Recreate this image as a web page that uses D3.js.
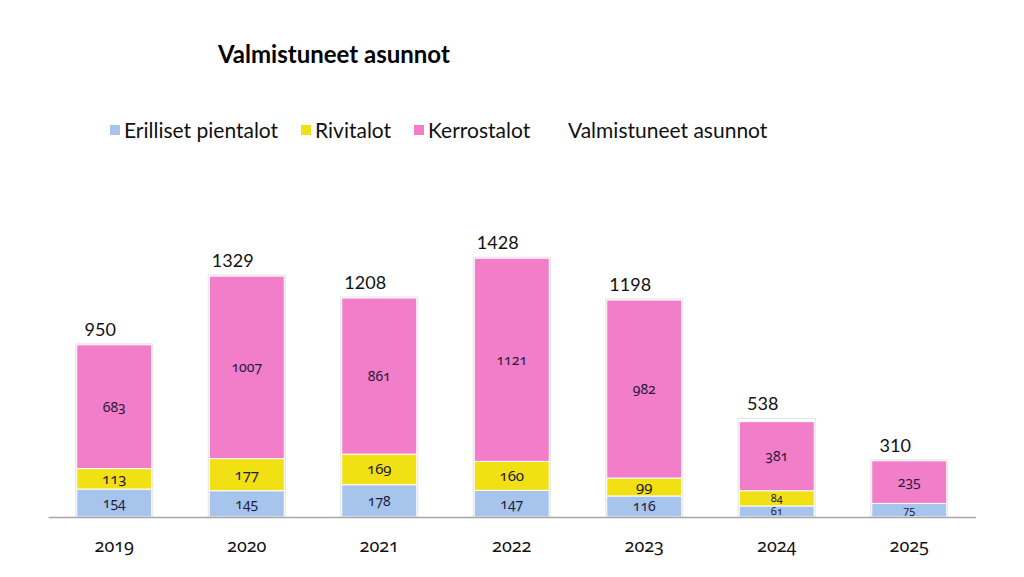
<!DOCTYPE html>
<html>
<head>
<meta charset="utf-8">
<script src="https://cdn.jsdelivr.net/npm/d3@7/dist/d3.min.js"></script>
<style>
  body { margin: 0; background: #fff; }
  svg { display: block; }
  .title { font-family: Lato, "Open Sans", sans-serif; font-weight: bold; font-size: 24px; fill: #000; }
  .legend text { font-family: Lato, "Open Sans", sans-serif; font-size: 21px; fill: #111; }
  .total { font-family: Lato, "Open Sans", sans-serif; font-size: 18px; fill: #111; }
  .seg { font-family: "Noto Sans", sans-serif; font-variant-numeric: oldstyle-nums; fill: #1e1a3a; }
  .year { font-family: "Noto Sans", sans-serif; font-variant-numeric: oldstyle-nums; font-size: 18px; fill: #111; }
</style>
</head>
<body>
<svg id="chart" width="1024" height="577"></svg>
<script>
// data
const years = ['2019', '2020', '2021', '2022', '2023', '2024', '2025'];
const erilliset = [154, 145, 178, 147, 116, 61, 75];
const rivitalot = [113, 177, 169, 160, 99, 84, 0];
const kerrostalot = [683, 1007, 861, 1121, 982, 381, 235];
const totals = [950, 1329, 1208, 1428, 1198, 538, 310];

const seriesNames = ['Erilliset pientalot', 'Rivitalot', 'Kerrostalot'];
const seriesKeys = ['erilliset', 'rivitalot', 'kerrostalot'];
const colors = ['#a6c4ec', '#f0e014', '#f27dc8'];
const labelSizes = [14, 15, 14];

var svg = d3.select('#chart');

var table = years.map((y, i) => ({
  year: y,
  erilliset: erilliset[i],
  rivitalot: rivitalot[i],
  kerrostalot: kerrostalot[i],
  total: totals[i]
}));

var x = d3.scaleBand().domain(years).range([48, 975.5]).paddingInner(0.434).paddingOuter(0.217);
var y = d3.scaleLinear().domain([0, 1600]).range([517, 227]);

var stack = d3.stack().keys(seriesKeys)(table);

// title
svg.append('text').attr('class', 'title').attr('x', 218).attr('y', 63).text('Valmistuneet asunnot');

// legend
var legend = svg.append('g').attr('class', 'legend');
var legendX = [110, 301, 414];
seriesNames.forEach((name, i) => {
  legend.append('rect').attr('x', legendX[i]).attr('y', 125).attr('width', 10).attr('height', 10).attr('fill', colors[i]);
  legend.append('text').attr('x', legendX[i] + 14).attr('y', 138).text(name);
});
legend.append('text').attr('x', 568).attr('y', 138).text('Valmistuneet asunnot');

// bars
var layers = svg.append('g').selectAll('g')
  .data(stack)
  .enter()
  .append('g')
  .attr('fill', (d, i) => colors[i]);

layers.selectAll('rect')
  .data(d => d.filter(s => s[1] - s[0] > 0))
  .enter()
  .append('rect')
  .attr('x', d => x(d.data.year))
  .attr('y', d => y(d[1]))
  .attr('width', x.bandwidth())
  .attr('height', d => y(d[0]) - y(d[1]))
  .attr('stroke', '#fff')
  .attr('stroke-width', 1);

// faint outline around each bar
svg.append('g').selectAll('rect')
  .data(table)
  .enter()
  .append('rect')
  .attr('x', d => x(d.year) - 1)
  .attr('y', d => y(d.total) - 1)
  .attr('width', x.bandwidth() + 2)
  .attr('height', d => y(0) - y(d.total) + 1)
  .attr('fill', 'none')
  .attr('stroke', '#e4e4e4')
  .attr('stroke-width', 1);

// segment labels (thin segments get a smaller font)
stack.forEach((layer, li) => {
  svg.append('g').selectAll('text')
    .data(layer.filter(s => s[1] - s[0] > 0))
    .enter()
    .append('text')
    .attr('class', 'seg')
    .attr('font-size', d => (y(d[0]) - y(d[1]) < 16 ? 11 : labelSizes[li]))
    .attr('text-anchor', 'middle')
    .attr('x', d => x(d.data.year) + x.bandwidth() / 2)
    .attr('y', d => (y(d[0]) + y(d[1])) / 2 + (y(d[0]) - y(d[1]) < 16 ? 4 : 5))
    .text(d => d[1] - d[0]);
});

// totals
svg.append('g').selectAll('text')
  .data(table)
  .enter()
  .append('text')
  .attr('class', 'total')
  .attr('text-anchor', 'middle')
  .attr('x', d => x(d.year) + x.bandwidth() / 2 - 14)
  .attr('y', d => y(d.total) - 9)
  .text(d => d.total);

// x axis
var xAxis = svg.append('g')
  .attr('transform', 'translate(0,' + y(0) + ')')
  .call(d3.axisBottom(x).tickSize(0).tickPadding(22));
xAxis.select('.domain').attr('stroke', '#a6a6a6').attr('stroke-width', 1.5);
xAxis.selectAll('text').attr('class', 'year').attr('font-size', null).attr('font-family', null);
</script>
</body>
</html>
